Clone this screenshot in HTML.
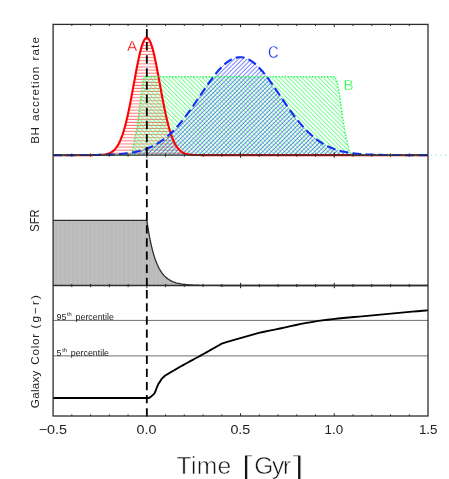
<!DOCTYPE html>
<html><head><meta charset="utf-8"><title>Time evolution</title>
<style>
html,body{margin:0;padding:0;background:#fff;}
body{width:449px;height:479px;overflow:hidden;font-family:"Liberation Sans",sans-serif;}
svg{display:block;will-change:transform}
text{font-family:"Liberation Sans",sans-serif;}
</style></head><body>
<svg width="449" height="479" viewBox="0 0 449 479">
<defs>
<pattern id="hr" width="10" height="3.08" patternUnits="userSpaceOnUse" patternTransform="translate(0,1.2)"><line x1="0" y1="1" x2="10" y2="1" stroke="#ff1a1a" stroke-width="0.7"/></pattern>
<pattern id="hg" width="10" height="3.06" patternUnits="userSpaceOnUse" patternTransform="translate(0.4,0) rotate(45)"><line x1="0" y1="1" x2="10" y2="1" stroke="#2bff55" stroke-width="0.74"/></pattern>
<pattern id="hb" width="10" height="3.06" patternUnits="userSpaceOnUse" patternTransform="translate(1.7,0) rotate(-45)"><line x1="0" y1="1" x2="10" y2="1" stroke="#2a3cff" stroke-width="0.72"/></pattern>
<pattern id="hk" width="4.25" height="10" patternUnits="userSpaceOnUse"><rect width="4.25" height="10" fill="#bfbfbf"/><rect width="1.9" height="10" fill="#b9b9b9"/></pattern>
<clipPath id="c1"><rect x="53.1" y="24.4" width="374.9" height="130.7"/></clipPath>
</defs>
<rect width="449" height="479" fill="#fff"/>
<!-- panel 2 fill -->
<path d="M53.10,220.35 L146.82,220.35 L147.77,226.68 L148.71,232.40 L149.65,237.56 L150.59,242.21 L151.53,246.42 L152.47,250.22 L153.41,253.65 L154.35,256.74 L155.29,259.53 L156.23,262.06 L157.17,264.34 L158.11,266.39 L159.05,268.25 L159.99,269.92 L160.93,271.44 L161.87,272.80 L162.81,274.04 L163.75,275.15 L164.69,276.16 L165.63,277.07 L166.57,277.88 L167.51,278.62 L168.45,279.29 L169.39,279.90 L170.33,280.44 L171.27,280.93 L172.22,281.38 L173.16,281.78 L174.10,282.14 L175.04,282.46 L175.98,282.76 L176.92,283.03 L177.86,283.27 L178.80,283.48 L179.74,283.68 L180.68,283.86 L181.62,284.02 L182.56,284.16 L183.50,284.29 L184.44,284.41 L185.38,284.51 L186.32,284.61 L187.26,284.70 L188.20,284.77 L189.14,284.84 L190.08,284.91 L191.02,284.97 L191.96,285.02 L192.90,285.06 L193.84,285.11 L194.78,285.15 L195.72,285.18 L196.67,285.21 L197.61,285.24 L198.55,285.26 L199.49,285.29 L200.43,285.31 L201.37,285.33 L202.31,285.34 L203.25,285.36 L204.19,285.37 L205.13,285.38 L206.07,285.40 L207.01,285.41 L207.95,285.42 L208.89,285.42 L209.83,285.43 L210.77,285.44 L211.71,285.44 L212.65,285.45 L213.59,285.45 L214.53,285.46 L215.47,285.46 L216.41,285.47 L217.35,285.47 L218.29,285.47 L219.23,285.48 L220.17,285.48 L221.12,285.48 L222.06,285.48 L223.00,285.48 L223.94,285.49 L224.88,285.49 L225.82,285.49 L226.76,285.49 L227.70,285.49 L228.64,285.49 L229.58,285.49 L230.52,285.49 L231.46,285.49 L232.40,285.49 L233.34,285.49 L234.28,285.50 L235.22,285.50 L236.16,285.50 L237.10,285.50 L238.04,285.50 L238.98,285.50 L239.92,285.50 L240.86,285.50 L241.80,285.50 L242.74,285.50 L243.68,285.50 L244.62,285.50 L245.57,285.50 L246.51,285.50 L247.45,285.50 L248.39,285.50 L249.33,285.50 L250.27,285.50 L251.21,285.50 L252.15,285.50 L253.09,285.50 L254.03,285.50 L254.97,285.50 L255.91,285.50 L256.85,285.50 L257.79,285.50 L258.73,285.50 L259.67,285.50 L260.61,285.50 L261.55,285.50 L262.49,285.50 L263.43,285.50 L264.37,285.50 L265.31,285.50 L266.25,285.50 L267.19,285.50 L268.13,285.50 L269.07,285.50 L270.02,285.50 L270.96,285.50 L271.90,285.50 L272.84,285.50 L273.78,285.50 L274.72,285.50 L275.66,285.50 L276.60,285.50 L277.54,285.50 L278.48,285.50 L279.42,285.50 L280.36,285.50 L281.30,285.50 L282.24,285.50 L283.18,285.50 L284.12,285.50 L285.06,285.50 L286.00,285.50 L286.94,285.50 L287.88,285.50 L288.82,285.50 L289.76,285.50 L290.70,285.50 L291.64,285.50 L292.58,285.50 L293.52,285.50 L294.47,285.50 L295.41,285.50 L296.35,285.50 L297.29,285.50 L298.23,285.50 L299.17,285.50 L300.11,285.50 L301.05,285.50 L301.99,285.50 L302.93,285.50 L303.87,285.50 L304.81,285.50 L305.75,285.50 L306.69,285.50 L307.63,285.50 L308.57,285.50 L309.51,285.50 L310.45,285.50 L311.39,285.50 L312.33,285.50 L313.27,285.50 L314.21,285.50 L315.15,285.50 L316.09,285.50 L317.03,285.50 L317.98,285.50 L318.92,285.50 L319.86,285.50 L320.80,285.50 L321.74,285.50 L322.68,285.50 L323.62,285.50 L324.56,285.50 L325.50,285.50 L326.44,285.50 L327.38,285.50 L328.32,285.50 L329.26,285.50 L330.20,285.50 L331.14,285.50 L332.08,285.50 L333.02,285.50 L333.96,285.50 L334.90,285.50 L335.84,285.50 L336.78,285.50 L337.72,285.50 L338.66,285.50 L339.60,285.50 L340.54,285.50 L341.48,285.50 L342.42,285.50 L343.37,285.50 L344.31,285.50 L345.25,285.50 L346.19,285.50 L347.13,285.50 L348.07,285.50 L349.01,285.50 L349.95,285.50 L350.89,285.50 L351.83,285.50 L352.77,285.50 L353.71,285.50 L354.65,285.50 L355.59,285.50 L356.53,285.50 L357.47,285.50 L358.41,285.50 L359.35,285.50 L360.29,285.50 L361.23,285.50 L362.17,285.50 L363.11,285.50 L364.05,285.50 L364.99,285.50 L365.93,285.50 L366.88,285.50 L367.82,285.50 L368.76,285.50 L369.70,285.50 L370.64,285.50 L371.58,285.50 L372.52,285.50 L373.46,285.50 L374.40,285.50 L375.34,285.50 L376.28,285.50 L377.22,285.50 L378.16,285.50 L379.10,285.50 L380.04,285.50 L380.98,285.50 L381.92,285.50 L382.86,285.50 L383.80,285.50 L384.74,285.50 L385.68,285.50 L386.62,285.50 L387.56,285.50 L388.50,285.50 L389.44,285.50 L390.38,285.50 L391.32,285.50 L392.27,285.50 L393.21,285.50 L394.15,285.50 L395.09,285.50 L396.03,285.50 L396.97,285.50 L397.91,285.50 L398.85,285.50 L399.79,285.50 L400.73,285.50 L401.67,285.50 L402.61,285.50 L403.55,285.50 L404.49,285.50 L405.43,285.50 L406.37,285.50 L407.31,285.50 L408.25,285.50 L409.19,285.50 L410.13,285.50 L411.07,285.50 L412.01,285.50 L412.95,285.50 L413.89,285.50 L414.83,285.50 L415.77,285.50 L416.72,285.50 L417.66,285.50 L418.60,285.50 L419.54,285.50 L420.48,285.50 L421.42,285.50 L422.36,285.50 L423.30,285.50 L424.24,285.50 L425.18,285.50 L426.12,285.50 L427.06,285.50 L428.00,285.50 L428.0,285.5 L53.1,285.5 Z" fill="url(#hk)"/>
<path d="M53.10,220.35 L146.82,220.35 L147.77,226.68 L148.71,232.40 L149.65,237.56 L150.59,242.21 L151.53,246.42 L152.47,250.22 L153.41,253.65 L154.35,256.74 L155.29,259.53 L156.23,262.06 L157.17,264.34 L158.11,266.39 L159.05,268.25 L159.99,269.92 L160.93,271.44 L161.87,272.80 L162.81,274.04 L163.75,275.15 L164.69,276.16 L165.63,277.07 L166.57,277.88 L167.51,278.62 L168.45,279.29 L169.39,279.90 L170.33,280.44 L171.27,280.93 L172.22,281.38 L173.16,281.78 L174.10,282.14 L175.04,282.46 L175.98,282.76 L176.92,283.03 L177.86,283.27 L178.80,283.48 L179.74,283.68 L180.68,283.86 L181.62,284.02 L182.56,284.16 L183.50,284.29 L184.44,284.41 L185.38,284.51 L186.32,284.61 L187.26,284.70 L188.20,284.77 L189.14,284.84 L190.08,284.91 L191.02,284.97 L191.96,285.02 L192.90,285.06 L193.84,285.11 L194.78,285.15 L195.72,285.18 L196.67,285.21 L197.61,285.24 L198.55,285.26 L199.49,285.29 L200.43,285.31 L201.37,285.33 L202.31,285.34 L203.25,285.36 L204.19,285.37 L205.13,285.38 L206.07,285.40 L207.01,285.41 L207.95,285.42 L208.89,285.42 L209.83,285.43 L210.77,285.44 L211.71,285.44 L212.65,285.45 L213.59,285.45 L214.53,285.46 L215.47,285.46 L216.41,285.47 L217.35,285.47 L218.29,285.47 L219.23,285.48 L220.17,285.48 L221.12,285.48 L222.06,285.48 L223.00,285.48 L223.94,285.49 L224.88,285.49 L225.82,285.49 L226.76,285.49 L227.70,285.49 L228.64,285.49 L229.58,285.49 L230.52,285.49 L231.46,285.49 L232.40,285.49 L233.34,285.49 L234.28,285.50 L235.22,285.50 L236.16,285.50 L237.10,285.50 L238.04,285.50 L238.98,285.50 L239.92,285.50 L240.86,285.50 L241.80,285.50 L242.74,285.50 L243.68,285.50 L244.62,285.50 L245.57,285.50 L246.51,285.50 L247.45,285.50 L248.39,285.50 L249.33,285.50 L250.27,285.50 L251.21,285.50 L252.15,285.50 L253.09,285.50 L254.03,285.50 L254.97,285.50 L255.91,285.50 L256.85,285.50 L257.79,285.50 L258.73,285.50 L259.67,285.50 L260.61,285.50 L261.55,285.50 L262.49,285.50 L263.43,285.50 L264.37,285.50 L265.31,285.50 L266.25,285.50 L267.19,285.50 L268.13,285.50 L269.07,285.50 L270.02,285.50 L270.96,285.50 L271.90,285.50 L272.84,285.50 L273.78,285.50 L274.72,285.50 L275.66,285.50 L276.60,285.50 L277.54,285.50 L278.48,285.50 L279.42,285.50 L280.36,285.50 L281.30,285.50 L282.24,285.50 L283.18,285.50 L284.12,285.50 L285.06,285.50 L286.00,285.50 L286.94,285.50 L287.88,285.50 L288.82,285.50 L289.76,285.50 L290.70,285.50 L291.64,285.50 L292.58,285.50 L293.52,285.50 L294.47,285.50 L295.41,285.50 L296.35,285.50 L297.29,285.50 L298.23,285.50 L299.17,285.50 L300.11,285.50 L301.05,285.50 L301.99,285.50 L302.93,285.50 L303.87,285.50 L304.81,285.50 L305.75,285.50 L306.69,285.50 L307.63,285.50 L308.57,285.50 L309.51,285.50 L310.45,285.50 L311.39,285.50 L312.33,285.50 L313.27,285.50 L314.21,285.50 L315.15,285.50 L316.09,285.50 L317.03,285.50 L317.98,285.50 L318.92,285.50 L319.86,285.50 L320.80,285.50 L321.74,285.50 L322.68,285.50 L323.62,285.50 L324.56,285.50 L325.50,285.50 L326.44,285.50 L327.38,285.50 L328.32,285.50 L329.26,285.50 L330.20,285.50 L331.14,285.50 L332.08,285.50 L333.02,285.50 L333.96,285.50 L334.90,285.50 L335.84,285.50 L336.78,285.50 L337.72,285.50 L338.66,285.50 L339.60,285.50 L340.54,285.50 L341.48,285.50 L342.42,285.50 L343.37,285.50 L344.31,285.50 L345.25,285.50 L346.19,285.50 L347.13,285.50 L348.07,285.50 L349.01,285.50 L349.95,285.50 L350.89,285.50 L351.83,285.50 L352.77,285.50 L353.71,285.50 L354.65,285.50 L355.59,285.50 L356.53,285.50 L357.47,285.50 L358.41,285.50 L359.35,285.50 L360.29,285.50 L361.23,285.50 L362.17,285.50 L363.11,285.50 L364.05,285.50 L364.99,285.50 L365.93,285.50 L366.88,285.50 L367.82,285.50 L368.76,285.50 L369.70,285.50 L370.64,285.50 L371.58,285.50 L372.52,285.50 L373.46,285.50 L374.40,285.50 L375.34,285.50 L376.28,285.50 L377.22,285.50 L378.16,285.50 L379.10,285.50 L380.04,285.50 L380.98,285.50 L381.92,285.50 L382.86,285.50 L383.80,285.50 L384.74,285.50 L385.68,285.50 L386.62,285.50 L387.56,285.50 L388.50,285.50 L389.44,285.50 L390.38,285.50 L391.32,285.50 L392.27,285.50 L393.21,285.50 L394.15,285.50 L395.09,285.50 L396.03,285.50 L396.97,285.50 L397.91,285.50 L398.85,285.50 L399.79,285.50 L400.73,285.50 L401.67,285.50 L402.61,285.50 L403.55,285.50 L404.49,285.50 L405.43,285.50 L406.37,285.50 L407.31,285.50 L408.25,285.50 L409.19,285.50 L410.13,285.50 L411.07,285.50 L412.01,285.50 L412.95,285.50 L413.89,285.50 L414.83,285.50 L415.77,285.50 L416.72,285.50 L417.66,285.50 L418.60,285.50 L419.54,285.50 L420.48,285.50 L421.42,285.50 L422.36,285.50 L423.30,285.50 L424.24,285.50 L425.18,285.50 L426.12,285.50 L427.06,285.50 L428.00,285.50" fill="none" stroke="#2e2e2e" stroke-width="1.3"/>
<!-- panel 1 -->
<path d="M53.10,155.10 L54.04,155.10 L54.98,155.10 L55.92,155.10 L56.86,155.10 L57.80,155.10 L58.74,155.10 L59.68,155.10 L60.62,155.10 L61.56,155.10 L62.50,155.10 L63.44,155.10 L64.38,155.10 L65.31,155.10 L66.25,155.10 L67.19,155.10 L68.13,155.10 L69.07,155.10 L70.01,155.10 L70.95,155.10 L71.89,155.10 L72.83,155.10 L73.77,155.10 L74.71,155.10 L75.65,155.10 L76.59,155.10 L77.53,155.10 L78.47,155.10 L79.41,155.10 L80.35,155.10 L81.29,155.10 L82.23,155.10 L83.17,155.10 L84.11,155.10 L85.05,155.10 L85.99,155.10 L86.93,155.10 L87.87,155.10 L88.80,155.09 L89.74,155.09 L90.68,155.09 L91.62,155.09 L92.56,155.08 L93.50,155.07 L94.44,155.07 L95.38,155.05 L96.32,155.04 L97.26,155.02 L98.20,154.99 L99.14,154.96 L100.08,154.92 L101.02,154.86 L101.96,154.80 L102.90,154.71 L103.84,154.60 L104.78,154.47 L105.72,154.31 L106.66,154.11 L107.60,153.86 L108.54,153.57 L109.48,153.21 L110.42,152.78 L111.36,152.26 L112.29,151.65 L113.23,150.93 L114.17,150.09 L115.11,149.11 L116.05,147.97 L116.99,146.66 L117.93,145.17 L118.87,143.47 L119.81,141.55 L120.75,139.39 L121.69,136.99 L122.63,134.33 L123.57,131.40 L124.51,128.20 L125.45,124.72 L126.39,120.98 L127.33,116.97 L128.27,112.72 L129.21,108.23 L130.15,103.54 L131.09,98.68 L132.03,93.68 L132.97,88.59 L133.91,83.45 L134.85,78.32 L135.78,73.24 L136.72,68.29 L137.66,63.51 L138.60,58.98 L139.54,54.75 L140.48,50.87 L141.42,47.41 L142.36,44.42 L143.30,41.93 L144.24,40.00 L145.18,38.64 L146.12,37.87 L147.06,37.72 L148.00,38.18 L148.94,39.24 L149.88,40.89 L150.82,43.11 L151.76,45.85 L152.70,49.09 L153.64,52.76 L154.58,56.82 L155.52,61.21 L156.46,65.87 L157.40,70.75 L158.34,75.77 L159.27,80.88 L160.21,86.02 L161.15,91.15 L162.09,96.20 L163.03,101.13 L163.97,105.91 L164.91,110.50 L165.85,114.87 L166.79,119.01 L167.73,122.88 L168.67,126.49 L169.61,129.83 L170.55,132.90 L171.49,135.69 L172.43,138.22 L173.37,140.50 L174.31,142.54 L175.25,144.34 L176.19,145.94 L177.13,147.34 L178.07,148.56 L179.01,149.62 L179.95,150.53 L180.89,151.31 L181.83,151.97 L182.76,152.53 L183.70,153.00 L184.64,153.39 L185.58,153.72 L186.52,153.99 L187.46,154.21 L188.40,154.39 L189.34,154.54 L190.28,154.66 L191.22,154.76 L192.16,154.83 L193.10,154.89 L194.04,154.94 L194.98,154.98 L195.92,155.01 L196.86,155.03 L197.80,155.05 L198.74,155.06 L199.68,155.07 L200.62,155.08 L201.56,155.08 L202.50,155.09 L203.44,155.09 L204.38,155.09 L205.32,155.10 L206.25,155.10 L207.19,155.10 L208.13,155.10 L209.07,155.10 L210.01,155.10 L210.95,155.10 L211.89,155.10 L212.83,155.10 L213.77,155.10 L214.71,155.10 L215.65,155.10 L216.59,155.10 L217.53,155.10 L218.47,155.10 L219.41,155.10 L220.35,155.10 L221.29,155.10 L222.23,155.10 L223.17,155.10 L224.11,155.10 L225.05,155.10 L225.99,155.10 L226.93,155.10 L227.87,155.10 L228.81,155.10 L229.74,155.10 L230.68,155.10 L231.62,155.10 L232.56,155.10 L233.50,155.10 L234.44,155.10 L235.38,155.10 L236.32,155.10 L237.26,155.10 L238.20,155.10 L239.14,155.10 L240.08,155.10 L241.02,155.10 L241.96,155.10 L242.90,155.10 L243.84,155.10 L244.78,155.10 L245.72,155.10 L246.66,155.10 L247.60,155.10 L248.54,155.10 L249.48,155.10 L250.42,155.10 L251.36,155.10 L252.29,155.10 L253.23,155.10 L254.17,155.10 L255.11,155.10 L256.05,155.10 L256.99,155.10 L257.93,155.10 L258.87,155.10 L259.81,155.10 L260.75,155.10 L261.69,155.10 L262.63,155.10 L263.57,155.10 L264.51,155.10 L265.45,155.10 L266.39,155.10 L267.33,155.10 L268.27,155.10 L269.21,155.10 L270.15,155.10 L271.09,155.10 L272.03,155.10 L272.97,155.10 L273.91,155.10 L274.85,155.10 L275.78,155.10 L276.72,155.10 L277.66,155.10 L278.60,155.10 L279.54,155.10 L280.48,155.10 L281.42,155.10 L282.36,155.10 L283.30,155.10 L284.24,155.10 L285.18,155.10 L286.12,155.10 L287.06,155.10 L288.00,155.10 L288.94,155.10 L289.88,155.10 L290.82,155.10 L291.76,155.10 L292.70,155.10 L293.64,155.10 L294.58,155.10 L295.52,155.10 L296.46,155.10 L297.40,155.10 L298.34,155.10 L299.27,155.10 L300.21,155.10 L301.15,155.10 L302.09,155.10 L303.03,155.10 L303.97,155.10 L304.91,155.10 L305.85,155.10 L306.79,155.10 L307.73,155.10 L308.67,155.10 L309.61,155.10 L310.55,155.10 L311.49,155.10 L312.43,155.10 L313.37,155.10 L314.31,155.10 L315.25,155.10 L316.19,155.10 L317.13,155.10 L318.07,155.10 L319.01,155.10 L319.95,155.10 L320.89,155.10 L321.83,155.10 L322.76,155.10 L323.70,155.10 L324.64,155.10 L325.58,155.10 L326.52,155.10 L327.46,155.10 L328.40,155.10 L329.34,155.10 L330.28,155.10 L331.22,155.10 L332.16,155.10 L333.10,155.10 L334.04,155.10 L334.98,155.10 L335.92,155.10 L336.86,155.10 L337.80,155.10 L338.74,155.10 L339.68,155.10 L340.62,155.10 L341.56,155.10 L342.50,155.10 L343.44,155.10 L344.38,155.10 L345.32,155.10 L346.25,155.10 L347.19,155.10 L348.13,155.10 L349.07,155.10 L350.01,155.10 L350.95,155.10 L351.89,155.10 L352.83,155.10 L353.77,155.10 L354.71,155.10 L355.65,155.10 L356.59,155.10 L357.53,155.10 L358.47,155.10 L359.41,155.10 L360.35,155.10 L361.29,155.10 L362.23,155.10 L363.17,155.10 L364.11,155.10 L365.05,155.10 L365.99,155.10 L366.93,155.10 L367.87,155.10 L368.81,155.10 L369.74,155.10 L370.68,155.10 L371.62,155.10 L372.56,155.10 L373.50,155.10 L374.44,155.10 L375.38,155.10 L376.32,155.10 L377.26,155.10 L378.20,155.10 L379.14,155.10 L380.08,155.10 L381.02,155.10 L381.96,155.10 L382.90,155.10 L383.84,155.10 L384.78,155.10 L385.72,155.10 L386.66,155.10 L387.60,155.10 L388.54,155.10 L389.48,155.10 L390.42,155.10 L391.36,155.10 L392.30,155.10 L393.23,155.10 L394.17,155.10 L395.11,155.10 L396.05,155.10 L396.99,155.10 L397.93,155.10 L398.87,155.10 L399.81,155.10 L400.75,155.10 L401.69,155.10 L402.63,155.10 L403.57,155.10 L404.51,155.10 L405.45,155.10 L406.39,155.10 L407.33,155.10 L408.27,155.10 L409.21,155.10 L410.15,155.10 L411.09,155.10 L412.03,155.10 L412.97,155.10 L413.91,155.10 L414.85,155.10 L415.79,155.10 L416.72,155.10 L417.66,155.10 L418.60,155.10 L419.54,155.10 L420.48,155.10 L421.42,155.10 L422.36,155.10 L423.30,155.10 L424.24,155.10 L425.18,155.10 L426.12,155.10 L427.06,155.10 L428.00,155.10 Z" fill="url(#hr)"/>
<path d="M53.10,155.10 L131.20,155.10 L133.60,145.20 L137.40,126.40 L139.60,107.60 L142.20,88.80 L143.50,80.50 L144.20,76.70 L335.00,76.70 L337.00,82.00 L339.80,96.30 L342.50,117.20 L346.00,138.00 L349.20,150.60 L351.30,155.10 Z" fill="url(#hg)"/>
<path d="M53.10,155.10 L54.04,155.10 L54.98,155.10 L55.92,155.10 L56.86,155.10 L57.80,155.10 L58.74,155.10 L59.68,155.10 L60.62,155.10 L61.56,155.10 L62.50,155.09 L63.44,155.09 L64.38,155.09 L65.31,155.09 L66.25,155.09 L67.19,155.09 L68.13,155.09 L69.07,155.09 L70.01,155.09 L70.95,155.09 L71.89,155.09 L72.83,155.08 L73.77,155.08 L74.71,155.08 L75.65,155.08 L76.59,155.08 L77.53,155.07 L78.47,155.07 L79.41,155.07 L80.35,155.07 L81.29,155.06 L82.23,155.06 L83.17,155.06 L84.11,155.05 L85.05,155.05 L85.99,155.04 L86.93,155.04 L87.87,155.03 L88.80,155.02 L89.74,155.02 L90.68,155.01 L91.62,155.00 L92.56,154.99 L93.50,154.98 L94.44,154.97 L95.38,154.96 L96.32,154.95 L97.26,154.93 L98.20,154.92 L99.14,154.90 L100.08,154.89 L101.02,154.87 L101.96,154.85 L102.90,154.83 L103.84,154.80 L104.78,154.78 L105.72,154.75 L106.66,154.72 L107.60,154.69 L108.54,154.66 L109.48,154.63 L110.42,154.59 L111.36,154.55 L112.29,154.51 L113.23,154.46 L114.17,154.41 L115.11,154.36 L116.05,154.30 L116.99,154.24 L117.93,154.18 L118.87,154.11 L119.81,154.04 L120.75,153.96 L121.69,153.88 L122.63,153.79 L123.57,153.69 L124.51,153.60 L125.45,153.49 L126.39,153.38 L127.33,153.26 L128.27,153.13 L129.21,153.00 L130.15,152.86 L131.09,152.71 L132.03,152.56 L132.97,152.39 L133.91,152.21 L134.85,152.03 L135.78,151.83 L136.72,151.63 L137.66,151.41 L138.60,151.19 L139.54,150.95 L140.48,150.69 L141.42,150.43 L142.36,150.15 L143.30,149.86 L144.24,149.56 L145.18,149.24 L146.12,148.90 L147.06,148.55 L148.00,148.19 L148.94,147.81 L149.88,147.41 L150.82,146.99 L151.76,146.56 L152.70,146.10 L153.64,145.63 L154.58,145.14 L155.52,144.63 L156.46,144.10 L157.40,143.55 L158.34,142.98 L159.27,142.39 L160.21,141.77 L161.15,141.14 L162.09,140.48 L163.03,139.80 L163.97,139.10 L164.91,138.37 L165.85,137.62 L166.79,136.84 L167.73,136.05 L168.67,135.22 L169.61,134.38 L170.55,133.51 L171.49,132.61 L172.43,131.70 L173.37,130.75 L174.31,129.79 L175.25,128.80 L176.19,127.78 L177.13,126.75 L178.07,125.69 L179.01,124.61 L179.95,123.50 L180.89,122.37 L181.83,121.22 L182.76,120.05 L183.70,118.86 L184.64,117.65 L185.58,116.43 L186.52,115.18 L187.46,113.91 L188.40,112.63 L189.34,111.34 L190.28,110.02 L191.22,108.70 L192.16,107.36 L193.10,106.01 L194.04,104.65 L194.98,103.28 L195.92,101.91 L196.86,100.52 L197.80,99.13 L198.74,97.74 L199.68,96.35 L200.62,94.95 L201.56,93.56 L202.50,92.17 L203.44,90.78 L204.38,89.40 L205.32,88.02 L206.25,86.66 L207.19,85.30 L208.13,83.96 L209.07,82.63 L210.01,81.32 L210.95,80.03 L211.89,78.75 L212.83,77.50 L213.77,76.27 L214.71,75.06 L215.65,73.88 L216.59,72.73 L217.53,71.61 L218.47,70.52 L219.41,69.46 L220.35,68.44 L221.29,67.45 L222.23,66.50 L223.17,65.59 L224.11,64.72 L225.05,63.89 L225.99,63.11 L226.93,62.37 L227.87,61.67 L228.81,61.03 L229.74,60.43 L230.68,59.88 L231.62,59.37 L232.56,58.92 L233.50,58.52 L234.44,58.17 L235.38,57.88 L236.32,57.64 L237.26,57.45 L238.20,57.31 L239.14,57.23 L240.08,57.20 L241.02,57.23 L241.96,57.31 L242.90,57.44 L243.84,57.63 L244.78,57.87 L245.72,58.16 L246.66,58.51 L247.60,58.90 L248.54,59.35 L249.48,59.85 L250.42,60.40 L251.36,61.00 L252.29,61.65 L253.23,62.34 L254.17,63.08 L255.11,63.86 L256.05,64.68 L256.99,65.55 L257.93,66.46 L258.87,67.41 L259.81,68.39 L260.75,69.42 L261.69,70.47 L262.63,71.56 L263.57,72.68 L264.51,73.83 L265.45,75.01 L266.39,76.22 L267.33,77.45 L268.27,78.70 L269.21,79.97 L270.15,81.27 L271.09,82.58 L272.03,83.91 L272.97,85.25 L273.91,86.60 L274.85,87.97 L275.78,89.34 L276.72,90.72 L277.66,92.11 L278.60,93.50 L279.54,94.89 L280.48,96.29 L281.42,97.68 L282.36,99.08 L283.30,100.46 L284.24,101.85 L285.18,103.22 L286.12,104.59 L287.06,105.95 L288.00,107.30 L288.94,108.64 L289.88,109.97 L290.82,111.28 L291.76,112.58 L292.70,113.86 L293.64,115.13 L294.58,116.37 L295.52,117.60 L296.46,118.81 L297.40,120.00 L298.34,121.18 L299.27,122.32 L300.21,123.45 L301.15,124.56 L302.09,125.64 L303.03,126.70 L303.97,127.74 L304.91,128.76 L305.85,129.75 L306.79,130.71 L307.73,131.66 L308.67,132.58 L309.61,133.47 L310.55,134.34 L311.49,135.19 L312.43,136.01 L313.37,136.81 L314.31,137.59 L315.25,138.34 L316.19,139.06 L317.13,139.77 L318.07,140.45 L319.01,141.11 L319.95,141.75 L320.89,142.36 L321.83,142.96 L322.76,143.53 L323.70,144.08 L324.64,144.61 L325.58,145.12 L326.52,145.61 L327.46,146.09 L328.40,146.54 L329.34,146.97 L330.28,147.39 L331.22,147.79 L332.16,148.17 L333.10,148.54 L334.04,148.89 L334.98,149.22 L335.92,149.54 L336.86,149.85 L337.80,150.14 L338.74,150.42 L339.68,150.68 L340.62,150.94 L341.56,151.18 L342.50,151.40 L343.44,151.62 L344.38,151.83 L345.32,152.02 L346.25,152.21 L347.19,152.38 L348.13,152.55 L349.07,152.71 L350.01,152.86 L350.95,153.00 L351.89,153.13 L352.83,153.25 L353.77,153.37 L354.71,153.49 L355.65,153.59 L356.59,153.69 L357.53,153.78 L358.47,153.87 L359.41,153.95 L360.35,154.03 L361.29,154.11 L362.23,154.17 L363.17,154.24 L364.11,154.30 L365.05,154.36 L365.99,154.41 L366.93,154.46 L367.87,154.50 L368.81,154.55 L369.74,154.59 L370.68,154.63 L371.62,154.66 L372.56,154.69 L373.50,154.72 L374.44,154.75 L375.38,154.78 L376.32,154.80 L377.26,154.83 L378.20,154.85 L379.14,154.87 L380.08,154.89 L381.02,154.90 L381.96,154.92 L382.90,154.93 L383.84,154.95 L384.78,154.96 L385.72,154.97 L386.66,154.98 L387.60,154.99 L388.54,155.00 L389.48,155.01 L390.42,155.02 L391.36,155.02 L392.30,155.03 L393.23,155.04 L394.17,155.04 L395.11,155.05 L396.05,155.05 L396.99,155.06 L397.93,155.06 L398.87,155.06 L399.81,155.07 L400.75,155.07 L401.69,155.07 L402.63,155.07 L403.57,155.08 L404.51,155.08 L405.45,155.08 L406.39,155.08 L407.33,155.08 L408.27,155.09 L409.21,155.09 L410.15,155.09 L411.09,155.09 L412.03,155.09 L412.97,155.09 L413.91,155.09 L414.85,155.09 L415.79,155.09 L416.72,155.09 L417.66,155.09 L418.60,155.10 L419.54,155.10 L420.48,155.10 L421.42,155.10 L422.36,155.10 L423.30,155.10 L424.24,155.10 L425.18,155.10 L426.12,155.10 L427.06,155.10 L428.00,155.10 Z" fill="url(#hb)"/>
<path d="M53.10,155.10 L54.04,155.10 L54.98,155.10 L55.92,155.10 L56.86,155.10 L57.80,155.10 L58.74,155.10 L59.68,155.10 L60.62,155.10 L61.56,155.10 L62.50,155.10 L63.44,155.10 L64.38,155.10 L65.31,155.10 L66.25,155.10 L67.19,155.10 L68.13,155.10 L69.07,155.10 L70.01,155.10 L70.95,155.10 L71.89,155.10 L72.83,155.10 L73.77,155.10 L74.71,155.10 L75.65,155.10 L76.59,155.10 L77.53,155.10 L78.47,155.10 L79.41,155.10 L80.35,155.10 L81.29,155.10 L82.23,155.10 L83.17,155.10 L84.11,155.10 L85.05,155.10 L85.99,155.10 L86.93,155.10 L87.87,155.10 L88.80,155.09 L89.74,155.09 L90.68,155.09 L91.62,155.09 L92.56,155.08 L93.50,155.07 L94.44,155.07 L95.38,155.05 L96.32,155.04 L97.26,155.02 L98.20,154.99 L99.14,154.96 L100.08,154.92 L101.02,154.86 L101.96,154.80 L102.90,154.71 L103.84,154.60 L104.78,154.47 L105.72,154.31 L106.66,154.11 L107.60,153.86 L108.54,153.57 L109.48,153.21 L110.42,152.78 L111.36,152.26 L112.29,151.65 L113.23,150.93 L114.17,150.09 L115.11,149.11 L116.05,147.97 L116.99,146.66 L117.93,145.17 L118.87,143.47 L119.81,141.55 L120.75,139.39 L121.69,136.99 L122.63,134.33 L123.57,131.40 L124.51,128.20 L125.45,124.72 L126.39,120.98 L127.33,116.97 L128.27,112.72 L129.21,108.23 L130.15,103.54 L131.09,98.68 L132.03,93.68 L132.97,88.59 L133.91,83.45 L134.85,78.32 L135.78,73.24 L136.72,68.29 L137.66,63.51 L138.60,58.98 L139.54,54.75 L140.48,50.87 L141.42,47.41 L142.36,44.42 L143.30,41.93 L144.24,40.00 L145.18,38.64 L146.12,37.87 L147.06,37.72 L148.00,38.18 L148.94,39.24 L149.88,40.89 L150.82,43.11 L151.76,45.85 L152.70,49.09 L153.64,52.76 L154.58,56.82 L155.52,61.21 L156.46,65.87 L157.40,70.75 L158.34,75.77 L159.27,80.88 L160.21,86.02 L161.15,91.15 L162.09,96.20 L163.03,101.13 L163.97,105.91 L164.91,110.50 L165.85,114.87 L166.79,119.01 L167.73,122.88 L168.67,126.49 L169.61,129.83 L170.55,132.90 L171.49,135.69 L172.43,138.22 L173.37,140.50 L174.31,142.54 L175.25,144.34 L176.19,145.94 L177.13,147.34 L178.07,148.56 L179.01,149.62 L179.95,150.53 L180.89,151.31 L181.83,151.97 L182.76,152.53 L183.70,153.00 L184.64,153.39 L185.58,153.72 L186.52,153.99 L187.46,154.21 L188.40,154.39 L189.34,154.54 L190.28,154.66 L191.22,154.76 L192.16,154.83 L193.10,154.89 L194.04,154.94 L194.98,154.98 L195.92,155.01 L196.86,155.03 L197.80,155.05 L198.74,155.06 L199.68,155.07 L200.62,155.08 L201.56,155.08 L202.50,155.09 L203.44,155.09 L204.38,155.09 L205.32,155.10 L206.25,155.10 L207.19,155.10 L208.13,155.10 L209.07,155.10 L210.01,155.10 L210.95,155.10 L211.89,155.10 L212.83,155.10 L213.77,155.10 L214.71,155.10 L215.65,155.10 L216.59,155.10 L217.53,155.10 L218.47,155.10 L219.41,155.10 L220.35,155.10 L221.29,155.10 L222.23,155.10 L223.17,155.10 L224.11,155.10 L225.05,155.10 L225.99,155.10 L226.93,155.10 L227.87,155.10 L228.81,155.10 L229.74,155.10 L230.68,155.10 L231.62,155.10 L232.56,155.10 L233.50,155.10 L234.44,155.10 L235.38,155.10 L236.32,155.10 L237.26,155.10 L238.20,155.10 L239.14,155.10 L240.08,155.10 L241.02,155.10 L241.96,155.10 L242.90,155.10 L243.84,155.10 L244.78,155.10 L245.72,155.10 L246.66,155.10 L247.60,155.10 L248.54,155.10 L249.48,155.10 L250.42,155.10 L251.36,155.10 L252.29,155.10 L253.23,155.10 L254.17,155.10 L255.11,155.10 L256.05,155.10 L256.99,155.10 L257.93,155.10 L258.87,155.10 L259.81,155.10 L260.75,155.10 L261.69,155.10 L262.63,155.10 L263.57,155.10 L264.51,155.10 L265.45,155.10 L266.39,155.10 L267.33,155.10 L268.27,155.10 L269.21,155.10 L270.15,155.10 L271.09,155.10 L272.03,155.10 L272.97,155.10 L273.91,155.10 L274.85,155.10 L275.78,155.10 L276.72,155.10 L277.66,155.10 L278.60,155.10 L279.54,155.10 L280.48,155.10 L281.42,155.10 L282.36,155.10 L283.30,155.10 L284.24,155.10 L285.18,155.10 L286.12,155.10 L287.06,155.10 L288.00,155.10 L288.94,155.10 L289.88,155.10 L290.82,155.10 L291.76,155.10 L292.70,155.10 L293.64,155.10 L294.58,155.10 L295.52,155.10 L296.46,155.10 L297.40,155.10 L298.34,155.10 L299.27,155.10 L300.21,155.10 L301.15,155.10 L302.09,155.10 L303.03,155.10 L303.97,155.10 L304.91,155.10 L305.85,155.10 L306.79,155.10 L307.73,155.10 L308.67,155.10 L309.61,155.10 L310.55,155.10 L311.49,155.10 L312.43,155.10 L313.37,155.10 L314.31,155.10 L315.25,155.10 L316.19,155.10 L317.13,155.10 L318.07,155.10 L319.01,155.10 L319.95,155.10 L320.89,155.10 L321.83,155.10 L322.76,155.10 L323.70,155.10 L324.64,155.10 L325.58,155.10 L326.52,155.10 L327.46,155.10 L328.40,155.10 L329.34,155.10 L330.28,155.10 L331.22,155.10 L332.16,155.10 L333.10,155.10 L334.04,155.10 L334.98,155.10 L335.92,155.10 L336.86,155.10 L337.80,155.10 L338.74,155.10 L339.68,155.10 L340.62,155.10 L341.56,155.10 L342.50,155.10 L343.44,155.10 L344.38,155.10 L345.32,155.10 L346.25,155.10 L347.19,155.10 L348.13,155.10 L349.07,155.10 L350.01,155.10 L350.95,155.10 L351.89,155.10 L352.83,155.10 L353.77,155.10 L354.71,155.10 L355.65,155.10 L356.59,155.10 L357.53,155.10 L358.47,155.10 L359.41,155.10 L360.35,155.10 L361.29,155.10 L362.23,155.10 L363.17,155.10 L364.11,155.10 L365.05,155.10 L365.99,155.10 L366.93,155.10 L367.87,155.10 L368.81,155.10 L369.74,155.10 L370.68,155.10 L371.62,155.10 L372.56,155.10 L373.50,155.10 L374.44,155.10 L375.38,155.10 L376.32,155.10 L377.26,155.10 L378.20,155.10 L379.14,155.10 L380.08,155.10 L381.02,155.10 L381.96,155.10 L382.90,155.10 L383.84,155.10 L384.78,155.10 L385.72,155.10 L386.66,155.10 L387.60,155.10 L388.54,155.10 L389.48,155.10 L390.42,155.10 L391.36,155.10 L392.30,155.10 L393.23,155.10 L394.17,155.10 L395.11,155.10 L396.05,155.10 L396.99,155.10 L397.93,155.10 L398.87,155.10 L399.81,155.10 L400.75,155.10 L401.69,155.10 L402.63,155.10 L403.57,155.10 L404.51,155.10 L405.45,155.10 L406.39,155.10 L407.33,155.10 L408.27,155.10 L409.21,155.10 L410.15,155.10 L411.09,155.10 L412.03,155.10 L412.97,155.10 L413.91,155.10 L414.85,155.10 L415.79,155.10 L416.72,155.10 L417.66,155.10 L418.60,155.10 L419.54,155.10 L420.48,155.10 L421.42,155.10 L422.36,155.10 L423.30,155.10 L424.24,155.10 L425.18,155.10 L426.12,155.10 L427.06,155.10 L428.00,155.10" fill="none" stroke="#ff0000" stroke-width="2.1"/>
<path d="M431,155.1H447" fill="none" stroke="#8fdcf2" stroke-width="1.1" stroke-dasharray="1.1 3.65"/>
<path d="M53.10,155.10 L131.20,155.10 L133.60,145.20 L137.40,126.40 L139.60,107.60 L142.20,88.80 L143.50,80.50 L144.20,76.70 L335.00,76.70 L337.00,82.00 L339.80,96.30 L342.50,117.20 L346.00,138.00 L349.20,150.60 L351.30,155.10 L428.0,155.1" fill="none" stroke="#2bff55" stroke-width="1.5" stroke-dasharray="1.5 1.54"/>
<path d="M53.10,155.10 L54.04,155.10 L54.98,155.10 L55.92,155.10 L56.86,155.10 L57.80,155.10 L58.74,155.10 L59.68,155.10 L60.62,155.10 L61.56,155.10 L62.50,155.09 L63.44,155.09 L64.38,155.09 L65.31,155.09 L66.25,155.09 L67.19,155.09 L68.13,155.09 L69.07,155.09 L70.01,155.09 L70.95,155.09 L71.89,155.09 L72.83,155.08 L73.77,155.08 L74.71,155.08 L75.65,155.08 L76.59,155.08 L77.53,155.07 L78.47,155.07 L79.41,155.07 L80.35,155.07 L81.29,155.06 L82.23,155.06 L83.17,155.06 L84.11,155.05 L85.05,155.05 L85.99,155.04 L86.93,155.04 L87.87,155.03 L88.80,155.02 L89.74,155.02 L90.68,155.01 L91.62,155.00 L92.56,154.99 L93.50,154.98 L94.44,154.97 L95.38,154.96 L96.32,154.95 L97.26,154.93 L98.20,154.92 L99.14,154.90 L100.08,154.89 L101.02,154.87 L101.96,154.85 L102.90,154.83 L103.84,154.80 L104.78,154.78 L105.72,154.75 L106.66,154.72 L107.60,154.69 L108.54,154.66 L109.48,154.63 L110.42,154.59 L111.36,154.55 L112.29,154.51 L113.23,154.46 L114.17,154.41 L115.11,154.36 L116.05,154.30 L116.99,154.24 L117.93,154.18 L118.87,154.11 L119.81,154.04 L120.75,153.96 L121.69,153.88 L122.63,153.79 L123.57,153.69 L124.51,153.60 L125.45,153.49 L126.39,153.38 L127.33,153.26 L128.27,153.13 L129.21,153.00 L130.15,152.86 L131.09,152.71 L132.03,152.56 L132.97,152.39 L133.91,152.21 L134.85,152.03 L135.78,151.83 L136.72,151.63 L137.66,151.41 L138.60,151.19 L139.54,150.95 L140.48,150.69 L141.42,150.43 L142.36,150.15 L143.30,149.86 L144.24,149.56 L145.18,149.24 L146.12,148.90 L147.06,148.55 L148.00,148.19 L148.94,147.81 L149.88,147.41 L150.82,146.99 L151.76,146.56 L152.70,146.10 L153.64,145.63 L154.58,145.14 L155.52,144.63 L156.46,144.10 L157.40,143.55 L158.34,142.98 L159.27,142.39 L160.21,141.77 L161.15,141.14 L162.09,140.48 L163.03,139.80 L163.97,139.10 L164.91,138.37 L165.85,137.62 L166.79,136.84 L167.73,136.05 L168.67,135.22 L169.61,134.38 L170.55,133.51 L171.49,132.61 L172.43,131.70 L173.37,130.75 L174.31,129.79 L175.25,128.80 L176.19,127.78 L177.13,126.75 L178.07,125.69 L179.01,124.61 L179.95,123.50 L180.89,122.37 L181.83,121.22 L182.76,120.05 L183.70,118.86 L184.64,117.65 L185.58,116.43 L186.52,115.18 L187.46,113.91 L188.40,112.63 L189.34,111.34 L190.28,110.02 L191.22,108.70 L192.16,107.36 L193.10,106.01 L194.04,104.65 L194.98,103.28 L195.92,101.91 L196.86,100.52 L197.80,99.13 L198.74,97.74 L199.68,96.35 L200.62,94.95 L201.56,93.56 L202.50,92.17 L203.44,90.78 L204.38,89.40 L205.32,88.02 L206.25,86.66 L207.19,85.30 L208.13,83.96 L209.07,82.63 L210.01,81.32 L210.95,80.03 L211.89,78.75 L212.83,77.50 L213.77,76.27 L214.71,75.06 L215.65,73.88 L216.59,72.73 L217.53,71.61 L218.47,70.52 L219.41,69.46 L220.35,68.44 L221.29,67.45 L222.23,66.50 L223.17,65.59 L224.11,64.72 L225.05,63.89 L225.99,63.11 L226.93,62.37 L227.87,61.67 L228.81,61.03 L229.74,60.43 L230.68,59.88 L231.62,59.37 L232.56,58.92 L233.50,58.52 L234.44,58.17 L235.38,57.88 L236.32,57.64 L237.26,57.45 L238.20,57.31 L239.14,57.23 L240.08,57.20 L241.02,57.23 L241.96,57.31 L242.90,57.44 L243.84,57.63 L244.78,57.87 L245.72,58.16 L246.66,58.51 L247.60,58.90 L248.54,59.35 L249.48,59.85 L250.42,60.40 L251.36,61.00 L252.29,61.65 L253.23,62.34 L254.17,63.08 L255.11,63.86 L256.05,64.68 L256.99,65.55 L257.93,66.46 L258.87,67.41 L259.81,68.39 L260.75,69.42 L261.69,70.47 L262.63,71.56 L263.57,72.68 L264.51,73.83 L265.45,75.01 L266.39,76.22 L267.33,77.45 L268.27,78.70 L269.21,79.97 L270.15,81.27 L271.09,82.58 L272.03,83.91 L272.97,85.25 L273.91,86.60 L274.85,87.97 L275.78,89.34 L276.72,90.72 L277.66,92.11 L278.60,93.50 L279.54,94.89 L280.48,96.29 L281.42,97.68 L282.36,99.08 L283.30,100.46 L284.24,101.85 L285.18,103.22 L286.12,104.59 L287.06,105.95 L288.00,107.30 L288.94,108.64 L289.88,109.97 L290.82,111.28 L291.76,112.58 L292.70,113.86 L293.64,115.13 L294.58,116.37 L295.52,117.60 L296.46,118.81 L297.40,120.00 L298.34,121.18 L299.27,122.32 L300.21,123.45 L301.15,124.56 L302.09,125.64 L303.03,126.70 L303.97,127.74 L304.91,128.76 L305.85,129.75 L306.79,130.71 L307.73,131.66 L308.67,132.58 L309.61,133.47 L310.55,134.34 L311.49,135.19 L312.43,136.01 L313.37,136.81 L314.31,137.59 L315.25,138.34 L316.19,139.06 L317.13,139.77 L318.07,140.45 L319.01,141.11 L319.95,141.75 L320.89,142.36 L321.83,142.96 L322.76,143.53 L323.70,144.08 L324.64,144.61 L325.58,145.12 L326.52,145.61 L327.46,146.09 L328.40,146.54 L329.34,146.97 L330.28,147.39 L331.22,147.79 L332.16,148.17 L333.10,148.54 L334.04,148.89 L334.98,149.22 L335.92,149.54 L336.86,149.85 L337.80,150.14 L338.74,150.42 L339.68,150.68 L340.62,150.94 L341.56,151.18 L342.50,151.40 L343.44,151.62 L344.38,151.83 L345.32,152.02 L346.25,152.21 L347.19,152.38 L348.13,152.55 L349.07,152.71 L350.01,152.86 L350.95,153.00 L351.89,153.13 L352.83,153.25 L353.77,153.37 L354.71,153.49 L355.65,153.59 L356.59,153.69 L357.53,153.78 L358.47,153.87 L359.41,153.95 L360.35,154.03 L361.29,154.11 L362.23,154.17 L363.17,154.24 L364.11,154.30 L365.05,154.36 L365.99,154.41 L366.93,154.46 L367.87,154.50 L368.81,154.55 L369.74,154.59 L370.68,154.63 L371.62,154.66 L372.56,154.69 L373.50,154.72 L374.44,154.75 L375.38,154.78 L376.32,154.80 L377.26,154.83 L378.20,154.85 L379.14,154.87 L380.08,154.89 L381.02,154.90 L381.96,154.92 L382.90,154.93 L383.84,154.95 L384.78,154.96 L385.72,154.97 L386.66,154.98 L387.60,154.99 L388.54,155.00 L389.48,155.01 L390.42,155.02 L391.36,155.02 L392.30,155.03 L393.23,155.04 L394.17,155.04 L395.11,155.05 L396.05,155.05 L396.99,155.06 L397.93,155.06 L398.87,155.06 L399.81,155.07 L400.75,155.07 L401.69,155.07 L402.63,155.07 L403.57,155.08 L404.51,155.08 L405.45,155.08 L406.39,155.08 L407.33,155.08 L408.27,155.09 L409.21,155.09 L410.15,155.09 L411.09,155.09 L412.03,155.09 L412.97,155.09 L413.91,155.09 L414.85,155.09 L415.79,155.09 L416.72,155.09 L417.66,155.09 L418.60,155.10 L419.54,155.10 L420.48,155.10 L421.42,155.10 L422.36,155.10 L423.30,155.10 L424.24,155.10 L425.18,155.10 L426.12,155.10 L427.06,155.10 L428.00,155.10" fill="none" stroke="#1030f0" stroke-width="2.1" stroke-dasharray="8.9 4.26"/>
<!-- panel 3 -->
<path d="M53.1,320.4H428.0M53.1,355.9H428.0" stroke="#6e6e6e" stroke-width="1" fill="none"/>
<path d="M53.10,398.00 L148.90,398.00 L151.50,396.20 L154.30,393.60 L155.60,391.00 L156.70,387.80 L158.40,383.90 L161.70,378.90 L165.10,375.60 L166.56,374.73 L168.01,373.86 L169.47,373.00 L170.93,372.14 L172.38,371.28 L173.84,370.43 L175.29,369.59 L176.75,368.74 L178.21,367.91 L179.66,367.07 L181.12,366.24 L182.58,365.42 L184.03,364.60 L185.49,363.79 L186.95,362.99 L188.40,362.19 L189.86,361.40 L191.32,360.62 L192.77,359.84 L194.23,359.05 L195.68,358.27 L197.14,357.48 L198.60,356.69 L200.05,355.89 L201.51,355.08 L202.97,354.27 L204.42,353.46 L205.88,352.64 L207.34,351.82 L208.79,351.00 L210.25,350.18 L211.71,349.35 L213.16,348.52 L214.62,347.69 L216.07,346.86 L217.53,346.02 L218.99,345.19 L220.44,344.34 L221.90,343.50 L227.18,341.98 L232.47,340.47 L237.75,338.95 L243.04,337.40 L248.32,335.82 L253.61,334.32 L258.89,332.96 L264.18,331.76 L269.46,330.66 L274.75,329.59 L280.03,328.49 L285.32,327.32 L290.60,326.13 L295.88,324.99 L301.17,323.94 L306.45,322.96 L311.74,322.04 L317.02,321.20 L322.31,320.43 L327.59,319.71 L332.88,319.07 L338.16,318.50 L343.45,317.99 L348.73,317.51 L354.02,317.04 L359.30,316.57 L364.58,316.07 L369.87,315.57 L375.15,315.08 L380.44,314.58 L385.72,314.09 L391.01,313.61 L396.29,313.13 L401.58,312.65 L406.86,312.17 L412.15,311.70 L417.43,311.23 L422.72,310.76 L428.00,310.30" fill="none" stroke="#000" stroke-width="1.85" stroke-linejoin="miter"/>
<!-- frame -->
<path d="M71.84,24.40v1.6M90.59,24.40v1.6M109.33,24.40v1.6M128.08,24.40v1.6M146.82,24.40v2.7M165.57,24.40v1.6M184.31,24.40v1.6M203.06,24.40v1.6M221.80,24.40v1.6M240.55,24.40v2.7M259.30,24.40v1.6M278.04,24.40v1.6M296.79,24.40v1.6M315.53,24.40v1.6M334.28,24.40v2.7M353.02,24.40v1.6M371.76,24.40v1.6M390.51,24.40v1.6M409.25,24.40v1.6M71.84,155.10v-1.6M71.84,155.10v1.6M90.59,155.10v-1.6M90.59,155.10v1.6M109.33,155.10v-1.6M109.33,155.10v1.6M128.08,155.10v-1.6M128.08,155.10v1.6M146.82,155.10v-2.7M146.82,155.10v2.7M165.57,155.10v-1.6M165.57,155.10v1.6M184.31,155.10v-1.6M184.31,155.10v1.6M203.06,155.10v-1.6M203.06,155.10v1.6M221.80,155.10v-1.6M221.80,155.10v1.6M240.55,155.10v-2.7M240.55,155.10v2.7M259.30,155.10v-1.6M259.30,155.10v1.6M278.04,155.10v-1.6M278.04,155.10v1.6M296.79,155.10v-1.6M296.79,155.10v1.6M315.53,155.10v-1.6M315.53,155.10v1.6M334.28,155.10v-2.7M334.28,155.10v2.7M353.02,155.10v-1.6M353.02,155.10v1.6M371.76,155.10v-1.6M371.76,155.10v1.6M390.51,155.10v-1.6M390.51,155.10v1.6M409.25,155.10v-1.6M409.25,155.10v1.6M71.84,285.50v-1.6M71.84,285.50v1.6M90.59,285.50v-1.6M90.59,285.50v1.6M109.33,285.50v-1.6M109.33,285.50v1.6M128.08,285.50v-1.6M128.08,285.50v1.6M146.82,285.50v-2.7M146.82,285.50v2.7M165.57,285.50v-1.6M165.57,285.50v1.6M184.31,285.50v-1.6M184.31,285.50v1.6M203.06,285.50v-1.6M203.06,285.50v1.6M221.80,285.50v-1.6M221.80,285.50v1.6M240.55,285.50v-2.7M240.55,285.50v2.7M259.30,285.50v-1.6M259.30,285.50v1.6M278.04,285.50v-1.6M278.04,285.50v1.6M296.79,285.50v-1.6M296.79,285.50v1.6M315.53,285.50v-1.6M315.53,285.50v1.6M334.28,285.50v-2.7M334.28,285.50v2.7M353.02,285.50v-1.6M353.02,285.50v1.6M371.76,285.50v-1.6M371.76,285.50v1.6M390.51,285.50v-1.6M390.51,285.50v1.6M409.25,285.50v-1.6M409.25,285.50v1.6M71.84,416.00v-1.6M90.59,416.00v-1.6M109.33,416.00v-1.6M128.08,416.00v-1.6M146.82,416.00v-2.7M165.57,416.00v-1.6M184.31,416.00v-1.6M203.06,416.00v-1.6M221.80,416.00v-1.6M240.55,416.00v-2.7M259.30,416.00v-1.6M278.04,416.00v-1.6M296.79,416.00v-1.6M315.53,416.00v-1.6M334.28,416.00v-2.7M353.02,416.00v-1.6M371.76,416.00v-1.6M390.51,416.00v-1.6M409.25,416.00v-1.6" stroke="#222" stroke-width="1" fill="none"/>
<path d="M53.1,155.1H428.0M53.1,285.5H428.0" stroke="#2e2e2e" stroke-width="1.3" fill="none"/>
<path d="M146.82,29.00V37.35M146.82,42.12V50.47M146.82,55.24V63.59M146.82,68.36V76.71M146.82,81.48V89.83M146.82,94.60V102.95M146.82,107.72V116.07M146.82,120.84V129.19M146.82,133.96V142.31M146.82,147.08V155.43M146.82,159.60V167.95M146.82,172.72V181.07M146.82,185.84V194.19M146.82,198.96V207.31M146.82,212.08V220.43M146.82,225.20V233.55M146.82,238.32V246.67M146.82,251.44V259.79M146.82,264.56V272.91M146.82,277.68V286.03M146.82,290.05V298.40M146.82,303.17V311.52M146.82,316.29V324.64M146.82,329.41V337.76M146.82,342.53V350.88M146.82,355.65V364.00M146.82,368.77V377.12M146.82,381.89V390.24M146.82,395.01V403.36M146.82,408.13V416.48" stroke="#000" stroke-width="1.8" fill="none"/>
<rect x="53.1" y="24.4" width="374.9" height="391.6" fill="none" stroke="#2e2e2e" stroke-width="1.3"/>
<!-- labels -->
<g fill="#222">
<text transform="translate(38.5,143.8) rotate(-90)" font-size="11.6" textLength="16.6" lengthAdjust="spacing">BH</text>
<text transform="translate(38.5,121.0) rotate(-90)" font-size="11.6" textLength="54.2" lengthAdjust="spacing">accretion</text>
<text transform="translate(38.5,60.6) rotate(-90)" font-size="11.6" textLength="23.6" lengthAdjust="spacing">rate</text>
<text transform="translate(38.8,220.6) rotate(-90)" font-size="12.4" text-anchor="middle" textLength="22.2" lengthAdjust="spacingAndGlyphs">SFR</text>
<text transform="translate(38.7,408.2) rotate(-90)" font-size="11.6" textLength="37.6" lengthAdjust="spacing">Galaxy</text>
<text transform="translate(38.7,364.8) rotate(-90)" font-size="11.6" textLength="31" lengthAdjust="spacing">Color</text>
<text transform="translate(38.7,328.6) rotate(-90)" font-size="11.6" textLength="33.6" lengthAdjust="spacing">(g&#8722;r)</text>
<text x="38.70" y="434.1" font-size="12.6" textLength="28.4" lengthAdjust="spacingAndGlyphs">&#8722;0.5</text>
<text x="136.55" y="434.1" font-size="12.6" textLength="19.9" lengthAdjust="spacingAndGlyphs">0.0</text>
<text x="230.40" y="434.1" font-size="12.6" textLength="19.9" lengthAdjust="spacingAndGlyphs">0.5</text>
<text x="324.6" y="434.1" font-size="12.6" textLength="18.6" lengthAdjust="spacingAndGlyphs">1.0</text>
<text x="418.9" y="434.1" font-size="12.6" textLength="18.6" lengthAdjust="spacingAndGlyphs">1.5</text>
<text x="56.6" y="320.3" font-size="9.6" textLength="10" lengthAdjust="spacingAndGlyphs">95</text>
<text x="67" y="316.3" font-size="5.6" textLength="4.8" lengthAdjust="spacingAndGlyphs">th</text>
<text x="75.6" y="320.3" font-size="9.6" textLength="38.2" lengthAdjust="spacingAndGlyphs">percentile</text>
<text x="56.6" y="355.8" font-size="9.6" textLength="5" lengthAdjust="spacingAndGlyphs">5</text>
<text x="62.2" y="351.8" font-size="5.6" textLength="4.8" lengthAdjust="spacingAndGlyphs">th</text>
<text x="70.8" y="355.8" font-size="9.6" textLength="38.2" lengthAdjust="spacingAndGlyphs">percentile</text>
<text x="176.6" y="474.3" font-size="24.6" textLength="54.6" lengthAdjust="spacing" fill="#141414" stroke="#fff" stroke-width="0.55">Time</text>
<text x="241.2" y="474.9" font-size="28.5" textLength="11.9" lengthAdjust="spacingAndGlyphs" fill="#141414" stroke="#fff" stroke-width="0.8">[</text>
<text x="254.2" y="474.3" font-size="24.6" textLength="37" lengthAdjust="spacing" fill="#141414" stroke="#fff" stroke-width="0.55">Gyr</text>
<text x="292.3" y="474.9" font-size="28.5" textLength="11.9" lengthAdjust="spacingAndGlyphs" fill="#141414" stroke="#fff" stroke-width="0.8">]</text>
</g>
<g stroke="#fff" stroke-width="0.3">
<text x="127.0" y="50.8" font-size="15.3" fill="#ff0000">A</text>
<text x="267.9" y="57.9" font-size="16" textLength="10.6" lengthAdjust="spacingAndGlyphs" fill="#1030f0">C</text>
<text x="343.4" y="90.2" font-size="15.2" fill="#2bff55">B</text>
</g>
</svg>
</body></html>
